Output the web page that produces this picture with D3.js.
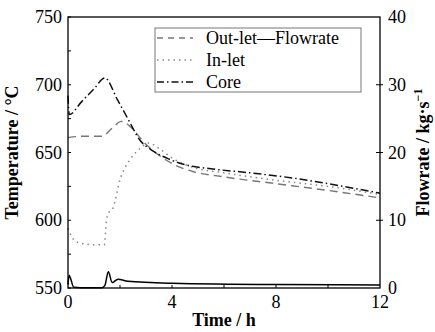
<!DOCTYPE html>
<html>
<head>
<meta charset="utf-8">
<script src="https://cdn.jsdelivr.net/npm/d3@7"></script>
<style>
  body { margin: 0; background: #fff; }
  text { font-family: "Liberation Serif", "DejaVu Serif", "Times New Roman", serif; }
</style>
</head>
<body>
<svg id="chart" width="435" height="332"></svg>
<script>
// data
const coreTime = [0, 0.05, 0.5, 1.0, 1.42, 1.9, 2.3, 2.77, 3.2, 3.9, 4.5, 5.5, 7, 8.7, 10, 12];
const coreTemp = [692, 678, 687, 697, 705, 689, 675, 659, 652, 645, 641, 638, 635, 631, 627, 620];

const outTime = [0, 0.6, 1.3, 1.7, 2.05, 2.5, 2.9, 3.5, 4.2, 4.8, 6, 8, 10, 12];
const outTemp = [661, 662, 662, 668, 673, 667, 658, 648, 640, 636, 632, 627, 622, 616.5];

const inTime = [0, 0.25, 0.5, 1.0, 1.4, 1.48, 1.58, 1.73, 2.0, 2.38, 2.77, 3.1, 3.5, 4.0, 4.8, 6, 8.65, 10, 12];
const inTemp = [594, 585, 583, 582, 582, 600, 606, 609, 630, 644.5, 653, 657, 653, 646, 639, 635, 628, 625, 619];

const flowTime = [0, 0.04, 0.1, 0.22, 0.5, 1.3, 1.42, 1.55, 1.7, 1.92, 2.3, 4, 8, 12];
const flowRate = [0.5, 1.9, 1.4, 0.1, 0.05, 0.05, 0.4, 2.4, 0.8, 1.3, 1.0, 0.7, 0.5, 0.45];

const timeTicks = [0, 4, 8, 12];
const timeMinor = [2, 6, 10];
const tempTicks = [550, 600, 650, 700, 750];
const tempMinor = [575, 625, 675, 725];
const flowTicks = [0, 10, 20, 30, 40];

const legendItems = [
  { label: "Out-let\u2014Flowrate", color: "#777", dash: "6,5" },
  { label: "In-let", color: "#888", dash: "1.5,4" },
  { label: "Core", color: "#111", dash: "7,3,1.5,3" }
];

const svg = d3.select("#chart");
const m = { left: 68, right: 380, top: 17, bottom: 288 };

const x = d3.scaleLinear().domain([0, 12]).range([m.left, m.right]);
const yT = d3.scaleLinear().domain([550, 750]).range([m.bottom, m.top]);
const yF = d3.scaleLinear().domain([0, 40]).range([m.bottom, m.top]);

function series(ts, vs) { return ts.map((t, i) => [t, vs[i]]); }

const lineT = d3.line().x(d => x(d[0])).y(d => yT(d[1])).curve(d3.curveMonotoneX);
const lineF = d3.line().x(d => x(d[0])).y(d => yF(d[1])).curve(d3.curveMonotoneX);

svg.append("path").datum(series(outTime, outTemp))
  .attr("d", lineT).attr("fill", "none").attr("stroke", "#777")
  .attr("stroke-width", 1.4).attr("stroke-dasharray", "8,5");
svg.append("path").datum(series(inTime, inTemp))
  .attr("d", lineT).attr("fill", "none").attr("stroke", "#888")
  .attr("stroke-width", 1.5).attr("stroke-dasharray", "1.5,4");
svg.append("path").datum(series(coreTime, coreTemp))
  .attr("d", lineT).attr("fill", "none").attr("stroke", "#111")
  .attr("stroke-width", 1.5).attr("stroke-dasharray", "8,3,1.5,3");
svg.append("path").datum(series(flowTime, flowRate))
  .attr("d", lineF).attr("fill", "none").attr("stroke", "#000")
  .attr("stroke-width", 1.5);

// frame
svg.append("rect")
  .attr("x", m.left).attr("y", m.top)
  .attr("width", m.right - m.left).attr("height", m.bottom - m.top)
  .attr("fill", "none").attr("stroke", "#000").attr("stroke-width", 1.3);

// left axis ticks (inward)
svg.selectAll(".lt").data(tempTicks.concat(tempMinor)).enter().append("line")
  .attr("x1", m.left).attr("x2", m.left + 3)
  .attr("y1", d => yT(d)).attr("y2", d => yT(d))
  .attr("stroke", "#000");
svg.selectAll(".ll").data(tempTicks).enter().append("text")
  .attr("x", m.left - 6).attr("y", d => yT(d) + 6)
  .attr("text-anchor", "end").attr("font-size", 18).text(d => d);

// right axis ticks (crossing)
svg.selectAll(".rt").data(flowTicks.slice(1, -1)).enter().append("line")
  .attr("x1", m.right - 4).attr("x2", m.right + 3)
  .attr("y1", d => yF(d)).attr("y2", d => yF(d))
  .attr("stroke", "#000");
svg.selectAll(".rl").data(flowTicks).enter().append("text")
  .attr("x", m.right + 8).attr("y", d => yF(d) + 6)
  .attr("text-anchor", "start").attr("font-size", 18).text(d => d);

// bottom ticks (inward)
svg.selectAll(".bt").data(timeTicks.slice(1, -1).concat(timeMinor)).enter().append("line")
  .attr("x1", d => x(d)).attr("x2", d => x(d))
  .attr("y1", m.bottom).attr("y2", m.bottom - 3)
  .attr("stroke", "#000");
svg.selectAll(".bl").data(timeTicks).enter().append("text")
  .attr("x", d => x(d)).attr("y", m.bottom + 20)
  .attr("text-anchor", "middle").attr("font-size", 18).text(d => d);

// axis titles
svg.append("text")
  .attr("x", (m.left + m.right) / 2).attr("y", 326)
  .attr("text-anchor", "middle").attr("font-size", 18).attr("font-weight", "bold")
  .text("Time / h");
svg.append("text")
  .attr("transform", `translate(18,${(m.top + m.bottom) / 2}) rotate(-90)`)
  .attr("text-anchor", "middle").attr("font-size", 18).attr("font-weight", "bold")
  .text("Temperature / \u00b0C");
const rt = svg.append("text")
  .attr("transform", `translate(429,${(m.top + m.bottom) / 2}) rotate(-90)`)
  .attr("text-anchor", "middle").attr("font-size", 18).attr("font-weight", "bold");
rt.append("tspan").text("Flowrate / kg\u00b7s");
rt.append("tspan").attr("dy", -7).attr("font-size", 12).text("\u22121");

// legend
const lg = svg.append("g").attr("transform", "translate(155,28)");
lg.append("rect").attr("width", 206).attr("height", 64)
  .attr("fill", "#fff").attr("stroke", "#777").attr("stroke-width", 1);
legendItems.forEach((d, i) => {
  const yy = 10 + i * 22;
  lg.append("line").attr("x1", 2).attr("x2", 38).attr("y1", yy).attr("y2", yy)
    .attr("stroke", d.color).attr("stroke-width", 1.4).attr("stroke-dasharray", d.dash);
  lg.append("text").attr("x", 51).attr("y", yy + 6).attr("font-size", 18).text(d.label);
});
</script>
</body>
</html>
